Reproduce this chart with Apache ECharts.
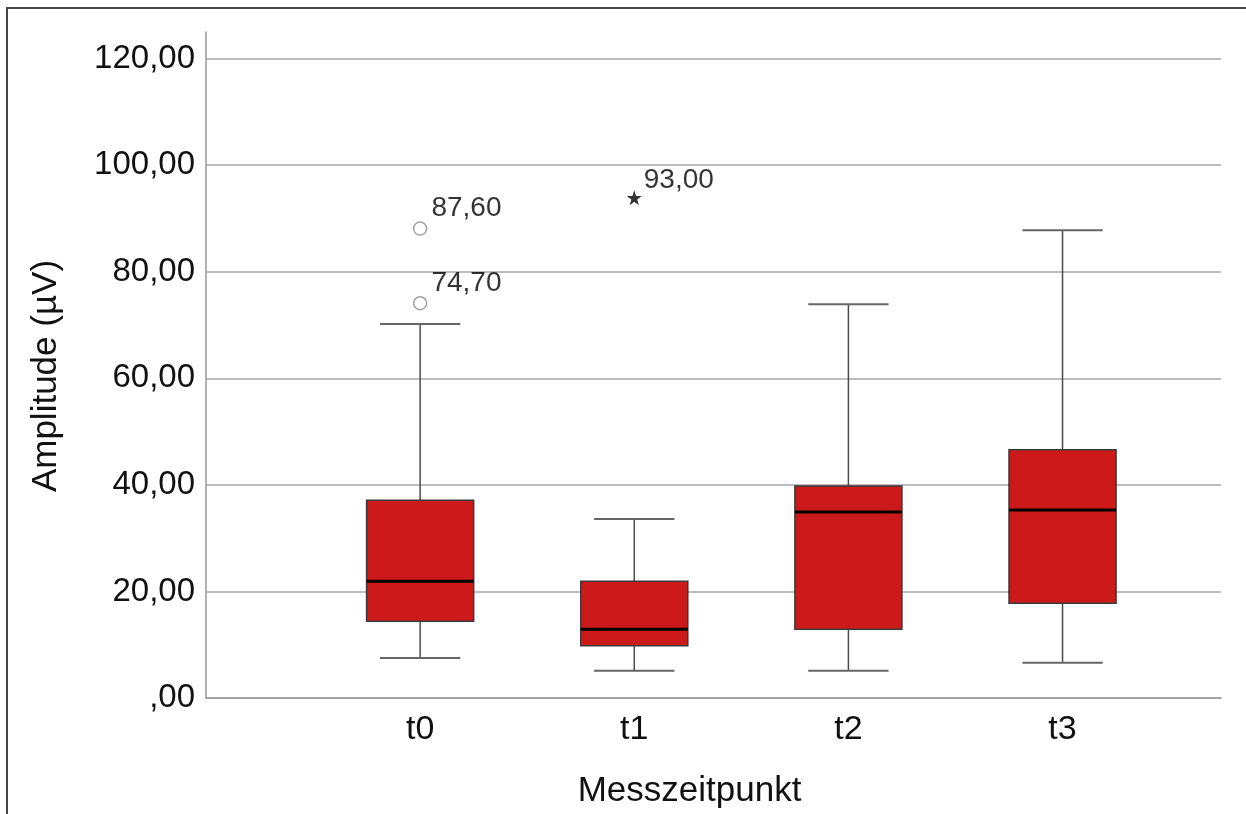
<!DOCTYPE html>
<html>
<head>
<meta charset="utf-8">
<script src="https://cdn.jsdelivr.net/npm/echarts@6/dist/echarts.min.js"></script>
<style>
html,body{margin:0;padding:0;background:#fff;overflow:hidden;width:1246px;height:814px;}
#frame{position:absolute;left:6px;top:7px;width:1238px;height:805px;border-top:2px solid #444;border-left:2px solid #444;}
#chart{position:absolute;left:0;top:0;width:1246px;height:814px;}
</style>
</head>
<body>
<div id="frame"></div>
<div id="chart"></div>
<script>
// categories
const categories = ['t0', 't1', 't2', 't3'];
// box statistics per category: [low whisker, Q1, median, Q3, high whisker]
const lowWhisker = [7.5, 5.1, 5.1, 6.6];
const q1 = [14.4, 9.8, 12.9, 17.8];
const median = [21.9, 12.9, 34.9, 35.3];
const q3 = [37.1, 21.9, 39.8, 46.6];
const highWhisker = [70.2, 33.6, 73.9, 87.8];
// outliers
const circleOutliers = [[0, 88.1], [0, 74.1]];
const circleLabels = ['87,60', '74,70'];
const extremeOutliers = [[1, 93.9]];
const extremeLabels = ['93,00'];
// y ticks
const yTicks = [0, 20, 40, 60, 80, 100, 120];

const FONT = 'Liberation Sans, Arial, sans-serif';
const boxData = categories.map((c, i) => [i, lowWhisker[i], q1[i], median[i], q3[i], highWhisker[i]]);

const chart = echarts.init(document.getElementById('chart'), null, {renderer: 'canvas', width: 1246, height: 814});
const star = 'path://M50,0 L61.8,35.1 L98.1,35.1 L68.8,56.8 L79.4,91.9 L50,70.2 L20.6,91.9 L31.2,56.8 L1.9,35.1 L38.2,35.1 Z';

chart.setOption({
  animation: false,
  backgroundColor: 'transparent',
  grid: {left: 206, right: 25, top: 32, bottom: 106},
  xAxis: {
    type: 'value', min: -1, max: 3.74, interval: 1,
    axisLine: {show: true, onZero: false, lineStyle: {color: '#9a9a9a', width: 1.5}},
    axisTick: {show: false},
    splitLine: {show: false},
    axisLabel: {
      margin: 15, fontSize: 34, fontFamily: FONT, color: '#111',
      showMinLabel: false, showMaxLabel: false,
      formatter: v => (Number.isInteger(v) && v >= 0 && v < categories.length) ? categories[v] : ''
    },
    name: 'Messzeitpunkt', nameLocation: 'middle', nameGap: 76,
    nameTextStyle: {fontSize: 35, fontFamily: FONT, color: '#111', padding: [0, 48, 0, 0]}
  },
  yAxis: {
    type: 'value', min: 0, max: 125, interval: 20,
    axisLine: {show: true, onZero: false, lineStyle: {color: '#9a9a9a', width: 1.5}},
    axisTick: {show: false},
    splitLine: {show: true, showMaxLine: false, lineStyle: {color: '#a8a8a8', width: 1.5}},
    axisLabel: {
      margin: 11, fontSize: 33, fontFamily: FONT, color: '#111',
      formatter: v => {
        if (yTicks.indexOf(v) < 0) return '';
        if (v === 0) return ',00';
        return v.toFixed(2).replace('.', ',');
      }
    },
    name: 'Amplitude (µV)', nameLocation: 'middle', nameGap: 142, nameRotate: 90,
    nameTextStyle: {fontSize: 35, fontFamily: FONT, color: '#111', padding: [0, 22, 0, 0]}
  },
  series: [
    {
      type: 'custom',
      data: boxData,
      renderItem: function (params, api) {
        const x = api.value(0);
        const pLow = api.coord([x, api.value(1)]);
        const pQ1 = api.coord([x, api.value(2)]);
        const pMed = api.coord([x, api.value(3)]);
        const pQ3 = api.coord([x, api.value(4)]);
        const pHigh = api.coord([x, api.value(5)]);
        const unit = api.size([1, 0])[0];
        const bw = unit * 0.5;
        const cw = unit * 0.375;
        const cx = pQ1[0];
        const wStyle = {stroke: '#4a4a4a', lineWidth: 1.5};
        return {
          type: 'group',
          children: [
            {type: 'line', shape: {x1: cx, y1: pLow[1], x2: cx, y2: pQ1[1]}, style: wStyle},
            {type: 'line', shape: {x1: cx, y1: pQ3[1], x2: cx, y2: pHigh[1]}, style: wStyle},
            {type: 'line', shape: {x1: cx - cw / 2, y1: pLow[1], x2: cx + cw / 2, y2: pLow[1]}, style: {stroke: '#666', lineWidth: 2}},
            {type: 'line', shape: {x1: cx - cw / 2, y1: pHigh[1], x2: cx + cw / 2, y2: pHigh[1]}, style: {stroke: '#666', lineWidth: 2}},
            {type: 'rect', shape: {x: cx - bw / 2, y: pQ3[1], width: bw, height: pQ1[1] - pQ3[1]}, style: {fill: '#cc1a1a', stroke: '#3a3a3a', lineWidth: 1.5}},
            {type: 'line', shape: {x1: cx - bw / 2, y1: pMed[1], x2: cx + bw / 2, y2: pMed[1]}, style: {stroke: '#000', lineWidth: 3}}
          ]
        };
      }
    },
    {
      type: 'scatter',
      data: circleOutliers.map((d, i) => ({value: d, label: {formatter: circleLabels[i]}})),
      symbol: 'circle', symbolSize: 13,
      itemStyle: {color: '#fff', borderColor: '#8a8a8a', borderWidth: 1.5},
      label: {show: true, position: 'right', distance: 4, offset: [0, -20], fontSize: 28, fontFamily: FONT, color: '#000'},
      z: 5
    },
    {
      type: 'scatter',
      data: extremeOutliers.map((d, i) => ({value: d, label: {formatter: extremeLabels[i]}})),
      symbol: star, symbolSize: 15,
      itemStyle: {color: '#000'},
      label: {show: true, position: 'right', distance: 2, offset: [0, -17], fontSize: 28, fontFamily: FONT, color: '#000'},
      z: 5
    }
  ]
});
</script>
</body>
</html>
